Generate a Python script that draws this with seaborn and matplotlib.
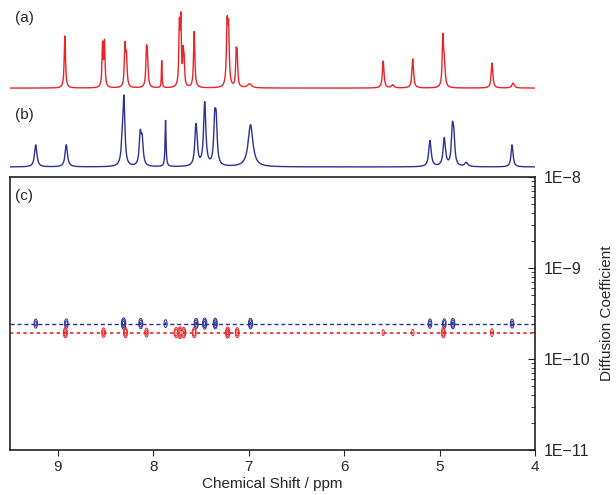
import numpy as np
import pandas as pd
import seaborn as sns
import matplotlib.pyplot as plt

# peak lists (ppm, height in px, width in ppm)
red_ppm = [8.925, 8.53, 8.51, 8.295, 8.28, 8.07, 8.06, 7.91, 7.725, 7.71, 7.685, 7.675,
           7.57, 7.225, 7.21, 7.13, 7.12, 6.99, 5.59, 5.49, 5.28, 4.965, 4.95, 4.45, 4.23]
red_height = [52, 42, 44, 40, 28, 32, 26, 27, 58, 63, 30, 22,
              56, 60, 52, 30, 28, 4, 27, 3, 29, 47, 24, 25, 5]
red_width = [0.016, 0.014, 0.014, 0.016, 0.016, 0.016, 0.016, 0.008, 0.014, 0.014, 0.012, 0.012,
             0.016, 0.018, 0.016, 0.014, 0.014, 0.05, 0.02, 0.03, 0.02, 0.016, 0.02, 0.02, 0.03]

blue_ppm = [9.23, 8.91, 8.305, 8.32, 8.135, 8.115, 7.87, 7.555, 7.545, 7.46, 7.355, 7.34,
            6.98, 5.10, 4.95, 4.865, 4.85, 4.72, 4.24]
blue_height = [22, 22, 58, 26, 30, 24, 46, 26, 22, 63, 40, 38,
               42, 26, 28, 34, 24, 4, 22]
blue_width = [0.03, 0.03, 0.022, 0.03, 0.025, 0.025, 0.012, 0.025, 0.025, 0.028, 0.025, 0.025,
              0.06, 0.03, 0.03, 0.025, 0.025, 0.04, 0.025]

# diffusion coefficients of the two species (m^2/s)
d_blue = 2.45e-10
d_red = 1.95e-10

# contour peaks in the DOSY panel (ppm, intensity)
dosy_blue_ppm = [9.23, 8.91, 8.31, 8.13, 7.87, 7.55, 7.46, 7.35, 6.98, 5.10, 4.95, 4.86, 4.24]
dosy_blue_int = [20, 22, 45, 30, 14, 32, 40, 36, 32, 22, 24, 32, 20]
dosy_red_ppm = [8.92, 8.52, 8.29, 8.07, 7.76, 7.72, 7.68, 7.57, 7.22, 7.12, 5.59, 5.28, 4.96, 4.45]
dosy_red_int = [30, 22, 28, 20, 28, 50, 32, 28, 40, 26, 9, 10, 30, 14]

xticks = [9, 8, 7, 6, 5, 4]
yticks = [1e-11, 1e-10, 1e-9, 1e-8]
ytick_labels = ['1E\u221211', '1E\u221210', '1E\u22129', '1E\u22128']

red = '#ec2227'
blue = '#2e3192'

sns.set_style('ticks')
plt.rcParams['font.family'] = ['Liberation Sans', 'DejaVu Sans']

ppm = np.linspace(4.0, 9.5, 6000)


def spectrum(centres, heights, widths):
    y = np.zeros_like(ppm)
    for c, h, w in zip(centres, heights, widths):
        y += h / (1 + ((ppm - c) / (w / 2)) ** 2)
    return y


spec = pd.DataFrame({'ppm': ppm,
                     'a': spectrum(red_ppm, red_height, red_width),
                     'b': spectrum(blue_ppm, blue_height, blue_width)})

fig = plt.figure(figsize=(6.16, 4.95), dpi=100)
ax_a = fig.add_axes([0.0162, 0.818, 0.8523, 0.172])
ax_b = fig.add_axes([0.0162, 0.6566, 0.8523, 0.158])
ax_c = fig.add_axes([0.0162, 0.0909, 0.8523, 0.5515])

sns.lineplot(data=spec, x='ppm', y='a', ax=ax_a, color=red, lw=1.0)
sns.lineplot(data=spec, x='ppm', y='b', ax=ax_b, color=blue, lw=1.0)
ax_a.set_ylim(-2, 83)
ax_b.set_ylim(-3, 75)
for ax in (ax_a, ax_b):
    ax.set_xlim(9.5, 4.0)
    ax.axis('off')
ax_a.text(0.01, 0.8, '(a)', transform=ax_a.transAxes, fontsize=11)
ax_b.text(0.01, 0.65, '(b)', transform=ax_b.transAxes, fontsize=11)

# DOSY contours
gx = np.linspace(4.0, 9.5, 1600)
gy = np.linspace(-11, -8, 1000)
X, Y = np.meshgrid(gx, gy)


def dosy(centres, amps, logd):
    z = np.zeros_like(X)
    for c, a in zip(centres, amps):
        z += a * np.exp(-0.5 * ((X - c) / 0.011) ** 2) * np.exp(-0.5 * ((Y - logd) / 0.03) ** 2)
    return z


levels = [5, 13, 28]
ax_c.contour(X, 10 ** Y, dosy(dosy_blue_ppm, dosy_blue_int, np.log10(d_blue)),
             levels=levels, colors=blue, linewidths=0.7)
ax_c.contour(X, 10 ** Y, dosy(dosy_red_ppm, dosy_red_int, np.log10(d_red)),
             levels=levels, colors=red, linewidths=0.7)
ax_c.axhline(d_blue, color=blue, ls=(0, (3, 2)), lw=1.0)
ax_c.axhline(d_red, color=red, ls=(0, (2, 2)), lw=1.2)

ax_c.set_yscale('log')
ax_c.set_ylim(1e-11, 1e-8)
ax_c.set_xlim(9.5, 4.0)
ax_c.set_xticks(xticks)
ax_c.set_yticks(yticks)
ax_c.set_yticklabels(ytick_labels)
ax_c.yaxis.tick_right()
ax_c.yaxis.set_label_position('right')
ax_c.tick_params(axis='y', which='both', direction='in', labelsize=11.5, pad=6)
ax_c.tick_params(axis='y', which='major', length=5)
ax_c.tick_params(axis='y', which='minor', length=3)
ax_c.tick_params(axis='x', direction='out', labelsize=11, length=4)
ax_c.set_xlabel('Chemical Shift / ppm', fontsize=11, labelpad=2)
ax_c.set_ylabel('Diffusion Coefficient', fontsize=11, va='center')
ax_c.yaxis.set_label_coords(1.137, 0.5)
for s in ax_c.spines.values():
    s.set_visible(True)
    s.set_linewidth(1.2)
    s.set_color('#222222')
ax_c.text(0.01, 0.955, '(c)', transform=ax_c.transAxes, fontsize=11, va='top')

fig.savefig('out.png', dpi=100)
